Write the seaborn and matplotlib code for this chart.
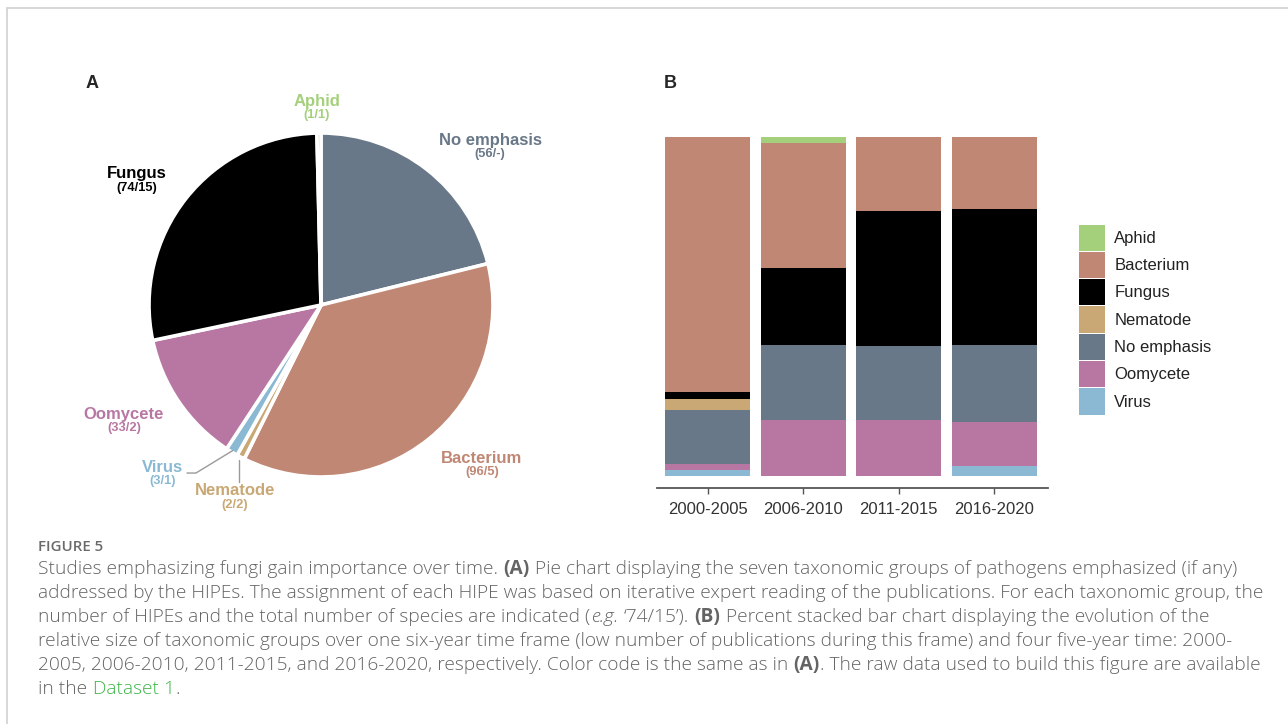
import matplotlib
matplotlib.use("Agg")
import matplotlib.pyplot as plt
from matplotlib.patches import Patch
from matplotlib.lines import Line2D
import numpy as np
import pandas as pd
import seaborn as sns

# taxonomic groups (alphabetical, same order as the legend)
groups = ["Aphid", "Bacterium", "Fungus", "Nematode", "No emphasis", "Oomycete", "Virus"]
hipe_counts = [1, 96, 74, 2, 56, 33, 3]
species_counts = ["1", "5", "15", "2", "-", "2", "1"]
colors = ["#a4d07b", "#bf8774", "#000000", "#c9a875", "#697888", "#b877a3", "#8bb9d3"]

# clockwise order of the slices, starting at 12 o'clock
pie_order = ["No emphasis", "Bacterium", "Nematode", "Virus", "Oomycete", "Fungus", "Aphid"]

# panel B: share (%) of each group per time frame
periods = ["2000-2005", "2006-2010", "2011-2015", "2016-2020"]
pct_aphid = [0.0, 1.7, 0.0, 0.0]
pct_bacterium = [75.3, 36.8, 21.8, 21.1]
pct_fungus = [1.9, 22.8, 39.8, 40.2]
pct_nematode = [3.4, 0.0, 0.0, 0.0]
pct_no_emphasis = [15.8, 22.2, 21.9, 22.7]
pct_oomycete = [1.9, 16.4, 16.4, 13.1]
pct_virus = [1.7, 0.0, 0.0, 2.8]

W, H = 1288, 724

sns.set_theme(style="white")
plt.rcParams["font.family"] = ["Liberation Sans", "DejaVu Sans"]

fig = plt.figure(figsize=(W / 100, H / 100), dpi=100)
fig.patch.set_facecolor("white")

palette = dict(zip(groups, colors))

# ---------------- panel A : pie ----------------
ax_pie = fig.add_axes([106 / W, 1 - 520 / H, 430 / W, 430 / H])
pie_vals = [hipe_counts[groups.index(g)] for g in pie_order]
pie_cols = [palette[g] for g in pie_order]
wedges, _ = ax_pie.pie(pie_vals, colors=pie_cols, startangle=90, counterclock=False,
                       wedgeprops=dict(edgecolor="white", linewidth=2.6))
ax_pie.set_xlim(-1.25, 1.25)
ax_pie.set_ylim(-1.25, 1.25)
ax_pie.set_aspect("equal")
ax_pie.axis("off")

# label anchors (pie data units)
label_pos = {
    "Aphid": (-0.023, 1.186),
    "No emphasis": (0.983, 0.959),
    "Fungus": (-1.070, 0.762),
    "Oomycete": (-1.145, -0.634),
    "Virus": (-0.919, -0.942),
    "Nematode": (-0.50, -1.081),
    "Bacterium": (0.936, -0.890),
}
for g in groups:
    i = groups.index(g)
    x, y = label_pos[g]
    ax_pie.text(x, y, g, ha="center", va="center", fontsize=12, fontweight="bold",
                color=palette[g])
    ax_pie.text(x, y - 0.079, f"({hipe_counts[i]}/{species_counts[i]})", ha="center",
                va="center", fontsize=9.3, fontweight="bold", color=palette[g])

# leader lines for the two tiny slices
wmap = dict(zip(pie_order, wedges))

def mid_point(w, r=1.0):
    a = np.deg2rad((w.theta1 + w.theta2) / 2)
    return r * np.cos(a), r * np.sin(a)

vx, vy = mid_point(wmap["Virus"], 0.99)
ax_pie.plot([-0.779, -0.727, vx], [-0.977, -0.977, vy], color="#9a9a9a", lw=1)
nx, ny = mid_point(wmap["Nematode"], 1.02)
ax_pie.plot([nx, nx], [ny, -1.028], color="#9a9a9a", lw=1)

# ---------------- panel B : percent stacked bars ----------------
shares = {
    "Aphid": pct_aphid, "Bacterium": pct_bacterium, "Fungus": pct_fungus,
    "Nematode": pct_nematode, "No emphasis": pct_no_emphasis,
    "Oomycete": pct_oomycete, "Virus": pct_virus,
}
rows = []
for g in groups:
    for p, v in zip(periods, shares[g]):
        rows.append({"period": p, "group": g, "pct": v})
df = pd.DataFrame(rows)

ax_bar = fig.add_axes([657 / W, 1 - 488 / H, (1048 - 657) / W, (488 - 137) / H])
sns.histplot(data=df, x="period", hue="group", weights="pct", multiple="fill",
             hue_order=groups, palette=palette, discrete=True, shrink=0.89,
             linewidth=0, alpha=1, legend=False, ax=ax_bar)
ax_bar.set_ylim(-0.0354, 1.0)
ax_bar.set_xlim(-0.53, 3.56)
ax_bar.set_xlabel("")
ax_bar.set_ylabel("")
ax_bar.set_yticks([])
for s in ["left", "top", "right"]:
    ax_bar.spines[s].set_visible(False)
ax_bar.spines["bottom"].set_color("#555555")
ax_bar.spines["bottom"].set_linewidth(1.3)
ax_bar.tick_params(axis="x", bottom=True, direction="out", length=4, width=1,
                   color="#555555", labelsize=12, labelcolor="#333333", pad=6)
ax_bar.set_facecolor("white")

handles = [Patch(facecolor=palette[g], edgecolor="none", label=g) for g in groups]
fig.legend(handles=handles, loc="upper left", bbox_to_anchor=(1079 / W, 1 - 224.5 / H),
           frameon=False, fontsize=12, handlelength=1.56, handleheight=2.03,
           labelspacing=0.075, handletextpad=0.55, borderpad=0, borderaxespad=0,
           labelcolor="#222222")

# panel letters
fig.text(92 / W, 1 - 83 / H, "A", ha="center", va="center", fontsize=13, fontweight="bold")
fig.text(670 / W, 1 - 83 / H, "B", ha="center", va="center", fontsize=13, fontweight="bold")

# frame lines of the page
fig.add_artist(Line2D([7 / W, 1], [1 - 8 / H, 1 - 8 / H], transform=fig.transFigure,
                      color="#d4d4d4", lw=1.3))
fig.add_artist(Line2D([7 / W, 7 / W], [0, 1 - 8 / H], transform=fig.transFigure,
                      color="#d4d4d4", lw=1.3))

# ---------------- caption ----------------
renderer = fig.canvas.get_renderer()
cap_font = ["Open Sans", "DejaVu Sans"]
cap_color = "#646464"
line1 = ("Studies emphasizing fungi gain importance over time. (A) Pie chart displaying the "
         "seven taxonomic groups of pathogens emphasized (if any)")
probe = fig.text(0, 0, line1, fontsize=12, family=cap_font, fontweight="light")
cap_size = 12 * 1194 / probe.get_window_extent(renderer).width
probe.remove()

def width_of(s, **kw):
    t = fig.text(0, 0, s, fontsize=cap_size, family=cap_font, **kw)
    w = t.get_window_extent(renderer).width
    t.remove()
    return w

space_w = width_of("a a", fontweight="light") - width_of("aa", fontweight="light")

caption = [
    [("Studies emphasizing fungi gain importance over time.", "n"), (" (A)", "b"),
     (" Pie chart displaying the seven taxonomic groups of pathogens emphasized (if any)", "n")],
    [("addressed by the HIPEs. The assignment of each HIPE was based on iterative expert "
      "reading of the publications. For each taxonomic group, the", "n")],
    [("number of HIPEs and the total number of species are indicated (", "n"), ("e.g.", "i"),
     (" \u201874/15\u2019).", "n"), (" (B)", "b"),
     (" Percent stacked bar chart displaying the evolution of the", "n")],
    [("relative size of taxonomic groups over one six-year time frame (low number of "
      "publications during this frame) and four five-year time: 2000-", "n")],
    [("2005, 2006-2010, 2011-2015, and 2016-2020, respectively. Color code is the same as in", "n"),
     (" (A)", "b"), (". The raw data used to build this figure are available", "n")],
    [("in the", "n"), (" Dataset 1", "g"), (".", "n")],
]

fig.text(38 / W, 1 - 551 / H, "FIGURE 5", fontsize=cap_size * 0.78, family=cap_font,
         fontweight="semibold", color="#6a6a6a", va="baseline")

for k, runs in enumerate(caption):
    y_base = 574 + 24 * k
    x = 38.0
    for txt, style in runs:
        if txt.startswith(" "):
            x += space_w
            txt = txt[1:]
        kw = dict(color=cap_color, fontweight="light")
        if style == "b":
            kw["fontweight"] = "bold"
        elif style == "i":
            kw["fontstyle"] = "italic"
        elif style == "g":
            kw["color"] = "#3db54a"
        t = fig.text(x / W, 1 - y_base / H, txt, fontsize=cap_size, family=cap_font,
                     va="baseline", ha="left", **kw)
        x = t.get_window_extent(renderer).x1 + 0.5

fig.savefig("out.png", dpi=100, facecolor="white")
